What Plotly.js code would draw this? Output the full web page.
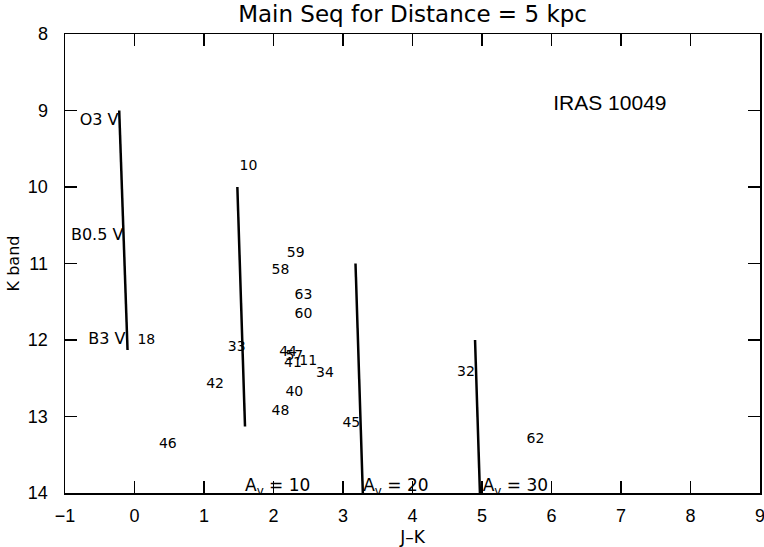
<!DOCTYPE html>
<html><head><meta charset="utf-8">
<script src="https://cdn.plot.ly/plotly-3.0.1.min.js"></script>
<style>html,body{margin:0;padding:0;background:#fff}</style>
</head><body><div id="chart" style="width:764px;height:547px"></div>
<script>
// Main sequence and reddened main sequences (J-K, K)
const msJK = [-0.22, -0.10];   const msK = [9.0, 12.13];
const av10JK = [1.48, 1.59];   const av10K = [10.0, 13.13];
const av20JK = [3.18, 3.29];   const av20K = [11.0, 14.13];
const av30JK = [4.90, 5.01];   const av30K = [12.0, 15.13];

// Source number labels
const srcLabels = ['10','59','58','63','60','33','44','57','41','11','34','42','40','48','45','18','46','32','62'];
const srcJK = [1.64, 2.32, 2.10, 2.43, 2.43, 1.47, 2.21, 2.30, 2.28, 2.50, 2.74, 1.16, 2.30, 2.10, 3.12, 0.17, 0.48, 4.77, 5.77];
const srcK  = [9.73, 10.87, 11.09, 11.42, 11.67, 12.10, 12.16, 12.22, 12.31, 12.28, 12.44, 12.58, 12.69, 12.93, 13.09, 12.00, 13.37, 12.43, 13.30];

// Spectral type labels
const spLabels = ['O3 V', 'B0.5 V', 'B3 V'];
const spJK = [-0.23, -0.16, -0.13];
const spK = [9.14, 10.64, 12.00];

// Extinction labels
const avLabels = ['A<sub>v</sub> = 10', 'A<sub>v</sub> = 20', 'A<sub>v</sub> = 30'];
const avJK = [1.59, 3.29, 5.01];
const avK = [13.92, 13.92, 13.92];

const xTicks = [-1,0,1,2,3,4,5,6,7,8,9];
const yTicks = [8,9,10,11,12,13,14];

const FONT = 'Liberation Sans, Arial, sans-serif';
const WIDE = 'DejaVu Sans, sans-serif';
const lineStyle = {color: 'black', width: 2.5};

const traces = [
  {x: msJK, y: msK, mode: 'lines', line: lineStyle, hoverinfo: 'skip'},
  {x: av10JK, y: av10K, mode: 'lines', line: lineStyle, hoverinfo: 'skip'},
  {x: av20JK, y: av20K, mode: 'lines', line: lineStyle, hoverinfo: 'skip'},
  {x: av30JK, y: av30K, mode: 'lines', line: lineStyle, hoverinfo: 'skip'},
  {x: srcJK, y: srcK, text: srcLabels, mode: 'text', textposition: 'middle center',
   textfont: {family: WIDE, size: 14, color: 'black'}, cliponaxis: false},
  {x: spJK, y: spK, text: spLabels, mode: 'text', textposition: 'middle left',
   textfont: {family: WIDE, size: 16, color: 'black'}, cliponaxis: false},
  {x: avJK, y: avK, text: avLabels, mode: 'text', textposition: 'middle right',
   textfont: {family: WIDE, size: 17, color: 'black'}, cliponaxis: false},
  {x: [6.84], y: [8.92], text: ['IRAS 10049'], mode: 'text', textposition: 'middle center',
   textfont: {family: FONT, size: 21, color: 'black'}}
];

const axisCommon = {
  showline: true, linecolor: 'black', linewidth: 1.5, mirror: 'ticks',
  ticks: 'inside', ticklen: 12, tickwidth: 1.5, tickcolor: 'black',
  showgrid: false, zeroline: false, ticklabeloverflow: 'allow',
  tickfont: {family: FONT, size: 18, color: 'black'}
};

const layout = {
  width: 764, height: 547,
  margin: {l: 65, r: 4, t: 34, b: 54},
  paper_bgcolor: 'white', plot_bgcolor: 'white',
  showlegend: false,
  title: {text: 'Main Seq for Distance = 5 kpc', x: 0.54, xanchor: 'center', y: 0.975, yanchor: 'middle',
          font: {family: WIDE, size: 23, color: 'black'}},
  xaxis: Object.assign({}, axisCommon, {
    range: [-1, 9], tickvals: xTicks, ticktext: xTicks.map(v => v < 0 ? '\u2212' + Math.abs(v) : String(v)),
    ticklabelstandoff: 6,
    title: {text: 'J\u2013K', font: {family: WIDE, size: 17, color: 'black'}, standoff: 6}
  }),
  yaxis: Object.assign({}, axisCommon, {
    range: [14, 8], tickvals: yTicks, ticktext: yTicks.map(String),
    ticklabelstandoff: 12,
    title: {text: 'K band', font: {family: WIDE, size: 16, color: 'black'}, standoff: 4}
  })
};

Plotly.newPlot('chart', traces, layout, {displayModeBar: false, staticPlot: true});
</script>
</body></html>
